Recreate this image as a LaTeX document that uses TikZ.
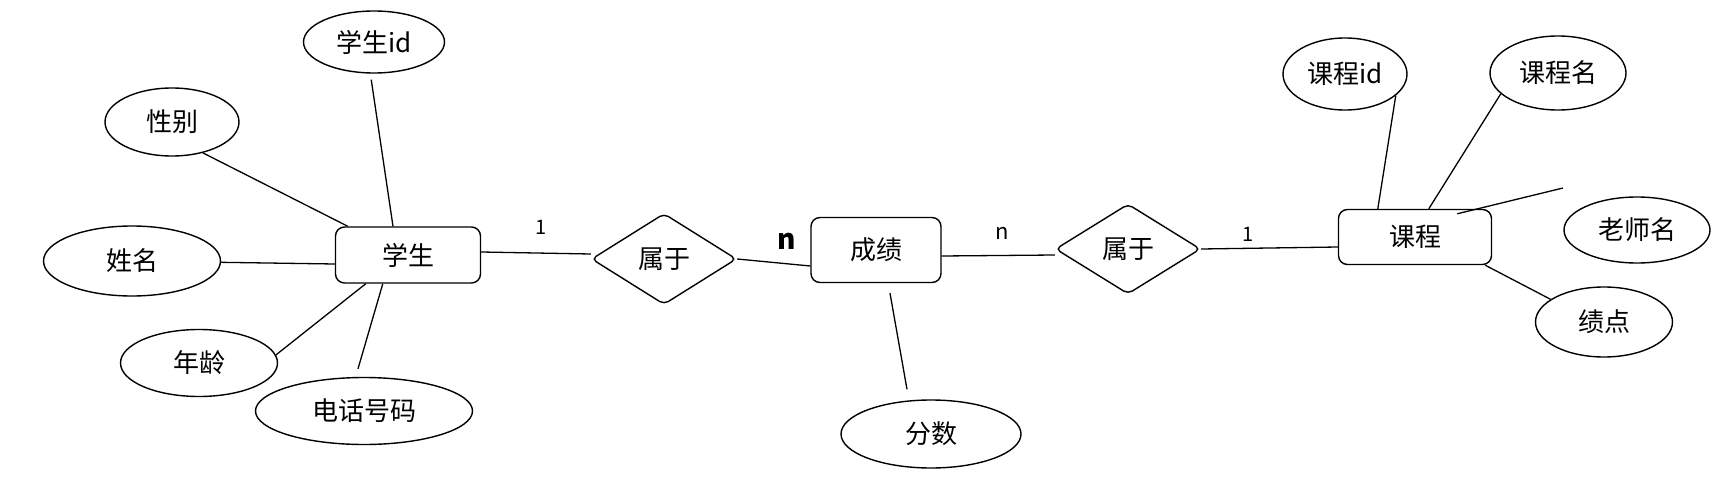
\documentclass[tikz,border=0pt]{standalone}
\usepackage{fontspec}
\setmainfont{Noto Sans CJK SC}
\usetikzlibrary{shapes.geometric}
\begin{document}
\begin{tikzpicture}[x=1pt,y=-1pt,
  attr/.style={ellipse, draw, line width=1.4pt, inner sep=0pt, font=\fontsize{26}{30}\selectfont},
  ent/.style={rectangle, draw, line width=1.4pt, rounded corners=9pt, inner sep=0pt, font=\fontsize{26}{30}\selectfont},
  rel/.style={diamond, draw, line width=1.4pt, rounded corners=5pt, inner sep=0pt, font=\fontsize{26}{30}\selectfont},
  card/.style={inner sep=0pt, font=\fontsize{20}{24}\selectfont},
  conn/.style={line width=1.3pt}]
\useasboundingbox (0,0) rectangle (1717,487);
% student side
\node[attr, minimum width=141pt, minimum height=62pt] (sid) at (374,42) {学生id};
\node[attr, minimum width=134pt, minimum height=68pt] (xb) at (172,122) {性别};
\node[attr, minimum width=177pt, minimum height=70pt] (xm) at (132,261) {姓名};
\node[ent, minimum width=145pt, minimum height=56pt] (xs) at (408,255) {学生};
\node[attr, minimum width=157pt, minimum height=67pt] (nl) at (199,363) {年龄};
\node[attr, minimum width=217pt, minimum height=67pt] (dh) at (364,411) {电话号码};
% middle
\node[card] (l1) at (541,227) {1};
\node[rel, minimum width=145pt, minimum height=91pt] (sy1) at (664,259) {属于};
\node[card, font=\fontsize{28}{30}\selectfont\bfseries] (ln1) at (787,241) {n};
\node[ent, minimum width=130pt, minimum height=65pt] (cj) at (876,250) {成绩};
\node[card, font=\fontsize{22}{26}\selectfont] (ln2) at (1002,233) {n};
\node[attr, minimum width=180pt, minimum height=68pt] (fs) at (931,434) {分数};
\node[rel, minimum width=145pt, minimum height=90pt] (sy2) at (1128,249) {属于};
\node[card] (l2) at (1248,234) {1};
% course side
\node[ent, minimum width=153pt, minimum height=55pt] (kc) at (1415,237) {课程};
\node[attr, minimum width=124pt, minimum height=72pt] (kid) at (1345,74) {课程id};
\node[attr, minimum width=136pt, minimum height=74pt] (kname) at (1558,73) {课程名};
\node[attr, minimum width=146pt, minimum height=66pt] (ls) at (1637,230) {老师名};
\node[attr, minimum width=137pt, minimum height=70pt] (jd) at (1604,322) {绩点};
\coordinate (lsend) at (1563,188);
% connectors
\draw[conn] ([yshift=-6pt]sid.265) -- ([xshift=-15pt]xs.north);
\draw[conn] (xb.-45) -- ([xshift=13pt]xs.north west);
\draw[conn] (xm) -- ([yshift=-9pt]xs.west);
\draw[conn] (nl.6) -- ([xshift=31pt]xs.south west);
\draw[conn] ([xshift=-6pt,yshift=8pt]dh.north) -- ([xshift=48pt]xs.south west);
\draw[conn] ([yshift=3pt]xs.east) -- ([yshift=5pt]sy1.west);
\draw[conn] (sy1.east) -- ([yshift=-16pt]cj.west);
\draw[conn] ([yshift=-6pt]cj.east) -- ([yshift=-6pt]sy2.west);
\draw[conn] (sy2.east) -- ([yshift=-10pt]kc.west);
\draw[conn] ([xshift=14pt,yshift=-10pt]cj.south) -- ([xshift=-24pt,yshift=10pt]fs.north);
\draw[conn] (kid.-23) -- ([xshift=40pt]kc.north west);
\draw[conn] (kname.200) -- ([xshift=91pt]kc.north west);
\draw[conn] ([xshift=-35pt,yshift=-5pt]kc.north east) -- (lsend);
\draw[conn] ([xshift=-7pt]kc.south east) -- (jd.157);
\end{tikzpicture}
\end{document}
